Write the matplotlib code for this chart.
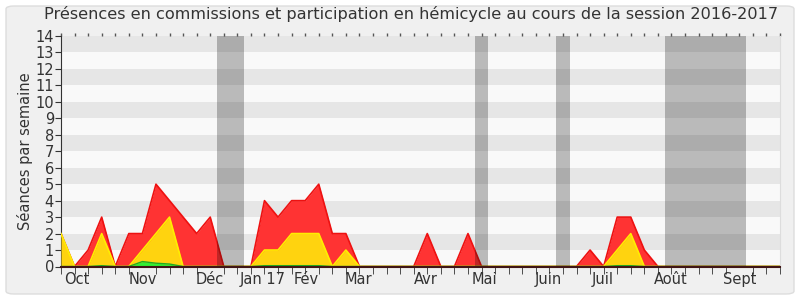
import numpy as np
import matplotlib
matplotlib.use("Agg")
import matplotlib.pyplot as plt
from matplotlib.patches import FancyBboxPatch

# weekly values, session 2016-2017 (54 weeks)
presence_total = [2, 0, 1, 3, 0, 2, 2, 5, 4, 3, 2, 3, 0, 0, 0, 4, 3, 4, 4, 5,
                  2, 2, 0, 0, 0, 0, 0, 2, 0, 0, 2, 0, 0, 0, 0, 0, 0, 0, 0, 1,
                  0, 3, 3, 1, 0, 0, 0, 0, 0, 0, 0, 0, 0, 0]
presence_commission = [2, 0, 0, 2, 0, 0, 1, 2, 3, 0, 0, 0, 0, 0, 0, 1, 1, 2, 2, 2,
                       0, 1, 0, 0, 0, 0, 0, 0, 0, 0, 0, 0, 0, 0, 0, 0, 0, 0, 0, 0,
                       0, 1, 2, 0, 0, 0, 0, 0, 0, 0, 0, 0, 0, 0]
participation = [0, 0, 0, 0.05, 0, 0, 0.3, 0.2, 0.15, 0, 0, 0, 0, 0, 0, 0.05, 0.05, 0.05, 0.05, 0.05,
                 0, 0, 0, 0, 0, 0, 0, 0, 0, 0, 0, 0, 0, 0, 0, 0, 0, 0, 0, 0,
                 0, 0.05, 0.05, 0, 0, 0, 0, 0, 0, 0, 0, 0, 0, 0]
vacances = [(11.5, 13.5), (30.5, 31.5), (36.5, 37.5), (44.5, 50.5)]
mois = ["Oct", "Nov", "Déc", "Jan 17", "Fév", "Mar", "Avr", "Mai", "Juin", "Juil", "Août", "Sept"]
mois_pos = [1.2, 6.0, 11.0, 14.9, 18.05, 21.9, 26.9, 31.2, 35.9, 39.9, 44.95, 50.0]

semaines = np.arange(len(presence_total))
txt = "#333333"

fig = plt.figure(figsize=(8, 3), dpi=100, facecolor="white")
fig.patches.append(FancyBboxPatch((6 / 800, 6 / 300), 788 / 800, 288 / 300,
                                  boxstyle="round,pad=0,rounding_size=0.01",
                                  transform=fig.transFigure, facecolor="#f0f0f0",
                                  edgecolor="#dddddd", linewidth=1, zorder=-10))
ax = fig.add_axes([61 / 800, 33.5 / 300, 719 / 800, 230.5 / 300])
ax.set_facecolor("#f9f9f9")

for k in range(1, 14, 2):
    ax.axhspan(k, k + 1, color="#e6e6e6", lw=0, zorder=0)

ax.fill_between(semaines, presence_total, color="#ff3333", lw=0, zorder=2)
ax.plot(semaines, presence_total, color="#ee1111", lw=1.2, zorder=2.1)
ax.fill_between(semaines, presence_commission, color="#ffd30f", lw=0, zorder=3)
ax.plot(semaines, presence_commission, color="#ffee00", lw=1.2, zorder=3.1)
ax.fill_between(semaines, participation, color="#33ee33", lw=0, zorder=4)
ax.plot(semaines, participation, color="#22aa22", lw=1, zorder=4.1)

for a, b in vacances:
    ax.axvspan(a, b, color="black", alpha=0.25, lw=0, zorder=5)

ax.set_xlim(0, len(semaines) - 1)
ax.set_ylim(0, 14)
ax.set_yticks(range(15))
ax.set_xticks(mois_pos)
ax.set_xticklabels(mois)
ax.set_xticks(semaines, minor=True)
ax.tick_params(axis="x", which="major", length=0, pad=4, labelsize=10.5, colors=txt)
ax.tick_params(axis="x", which="minor", bottom=True, length=5, color="#333333")
ax.tick_params(axis="y", length=4, pad=1, labelsize=10.5, colors=txt)

# small dotted marks along the top edge
haut = ax.secondary_xaxis("top")
haut.set_xticks(semaines)
haut.tick_params(length=2, width=1, color="#555555", labeltop=False)
haut.spines["top"].set_visible(False)

ax.spines["top"].set_visible(False)
ax.spines["right"].set_color("#dddddd")
ax.spines["left"].set_color("#333333")
ax.spines["bottom"].set_color("#401515")
ax.spines["bottom"].set_linewidth(1.5)
ax.spines["bottom"].set_zorder(10)

ax.set_ylabel("Séances par semaine", fontsize=10.5, color=txt, labelpad=2)
fig.text(0.514, 0.955, "Présences en commissions et participation en hémicycle au cours de la session 2016-2017",
         ha="center", va="center", fontsize=11.6, color=txt)

fig.savefig("out.png", dpi=100, facecolor=fig.get_facecolor())
